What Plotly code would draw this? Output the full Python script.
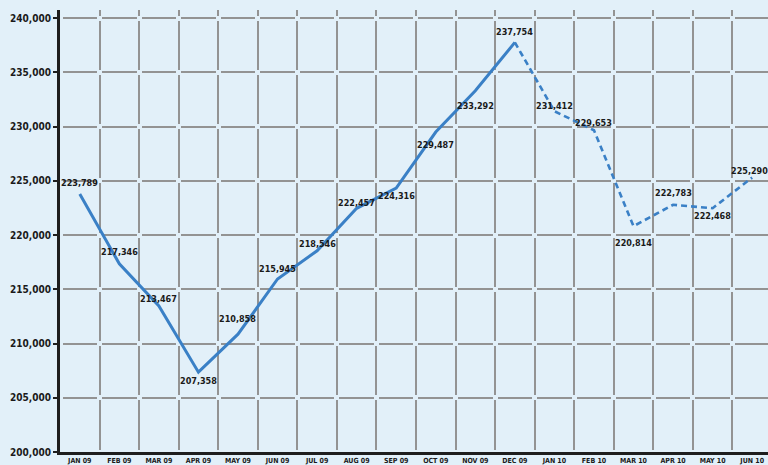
import plotly.graph_objects as go

# ---- data ----
months = ["JAN 09", "FEB 09", "MAR 09", "APR 09", "MAY 09", "JUN 09", "JUL 09", "AUG 09",
          "SEP 09", "OCT 09", "NOV 09", "DEC 09", "JAN 10", "FEB 10", "MAR 10", "APR 10",
          "MAY 10", "JUN 10"]
values = [223789, 217346, 213467, 207358, 210858, 215945, 218546, 222457,
          224316, 229487, 233292, 237754, 231412, 229653, 220814, 222783,
          222468, 225290]
n_solid = 12  # JAN 09 .. DEC 09 solid, rest dashed (projection)

# label offsets (px) -- style only
label_yshift = [11, 12, 7, -9, 15, 10, 7, 5, -8, -13, -15, 10, 5, 7, -17, 12, -8, 7]
label_xshift = [0] * 17 + [-3]

# ---- layout constants (style) ----
W, H = 768, 465
ML, MR, MT, MB = 60, 0, 10, 13
plot_w = W - ML - MR
plot_h = H - MT - MB
y_lo = 200000
y_hi = y_lo + 40000 * plot_h / (plot_h - 8)
x_lo, x_hi = -0.5, 17.4
col_px = plot_w / (x_hi - x_lo)
row_px = 5000 * plot_h / (y_hi - y_lo)
gap = 5.0
top_off = (y_hi - 240000) / (y_hi - y_lo) * plot_h  # px from top to first gridline

hdash = f"0px,{gap/2:.2f}px,{col_px-gap:.2f}px,{gap/2:.2f}px"
a = top_off - gap / 2
vdash = f"{a:.2f}px,{gap:.2f}px,{row_px-gap-a:.2f}px,0px"

bg = "#e2f0f9"
grid = "#939393"
blue = "#3a80c6"
font_fam = "Liberation Sans Narrow, DejaVu Sans Condensed, Roboto Condensed, Arial Narrow, sans-serif"

fig = go.Figure()
fig.add_trace(go.Scatter(x=months[:n_solid], y=values[:n_solid], mode="lines",
                         line=dict(color=blue, width=3), hoverinfo="skip"))
fig.add_trace(go.Scatter(x=months[n_solid - 1:], y=values[n_solid - 1:], mode="lines",
                         line=dict(color=blue, width=2.6, dash="6px,4px"), hoverinfo="skip"))

for m, v, s, xs in zip(months, values, label_yshift, label_xshift):
    fig.add_annotation(x=m, y=v, text=f"{v:,}", showarrow=False, yshift=s, xshift=xs,
                       font=dict(family=font_fam, size=9, color="#1a1a1a", weight="bold"))

fig.update_layout(
    width=W, height=H, margin=dict(l=ML, r=MR, t=MT, b=MB, autoexpand=False),
    paper_bgcolor=bg, plot_bgcolor=bg, showlegend=False,
    xaxis=dict(type="category", categoryorder="array", categoryarray=months,
               range=[x_lo, x_hi], tickson="boundaries", showgrid=True,
               gridcolor=grid, gridwidth=2, griddash=vdash,
               showline=True, linecolor="#1e1e1e", linewidth=3, ticks="",
               tickangle=0, automargin=False, ticklabelstandoff=0,
               tickfont=dict(family=font_fam, size=7, color="#1a1a1a", weight="bold"),
               zeroline=False),
    yaxis=dict(range=[y_lo, y_hi], dtick=5000, tick0=200000, tickformat=",",
               showgrid=True, gridcolor=grid, gridwidth=2, griddash=hdash,
               showline=True, linecolor="#1e1e1e", linewidth=3, automargin=False,
               ticks="outside", ticklen=4, tickcolor="#1e1e1e", tickwidth=1.5,
               tickfont=dict(family=font_fam, size=10, color="#1a1a1a", weight="bold"),
               zeroline=False),
)

fig.write_html("out.html")
